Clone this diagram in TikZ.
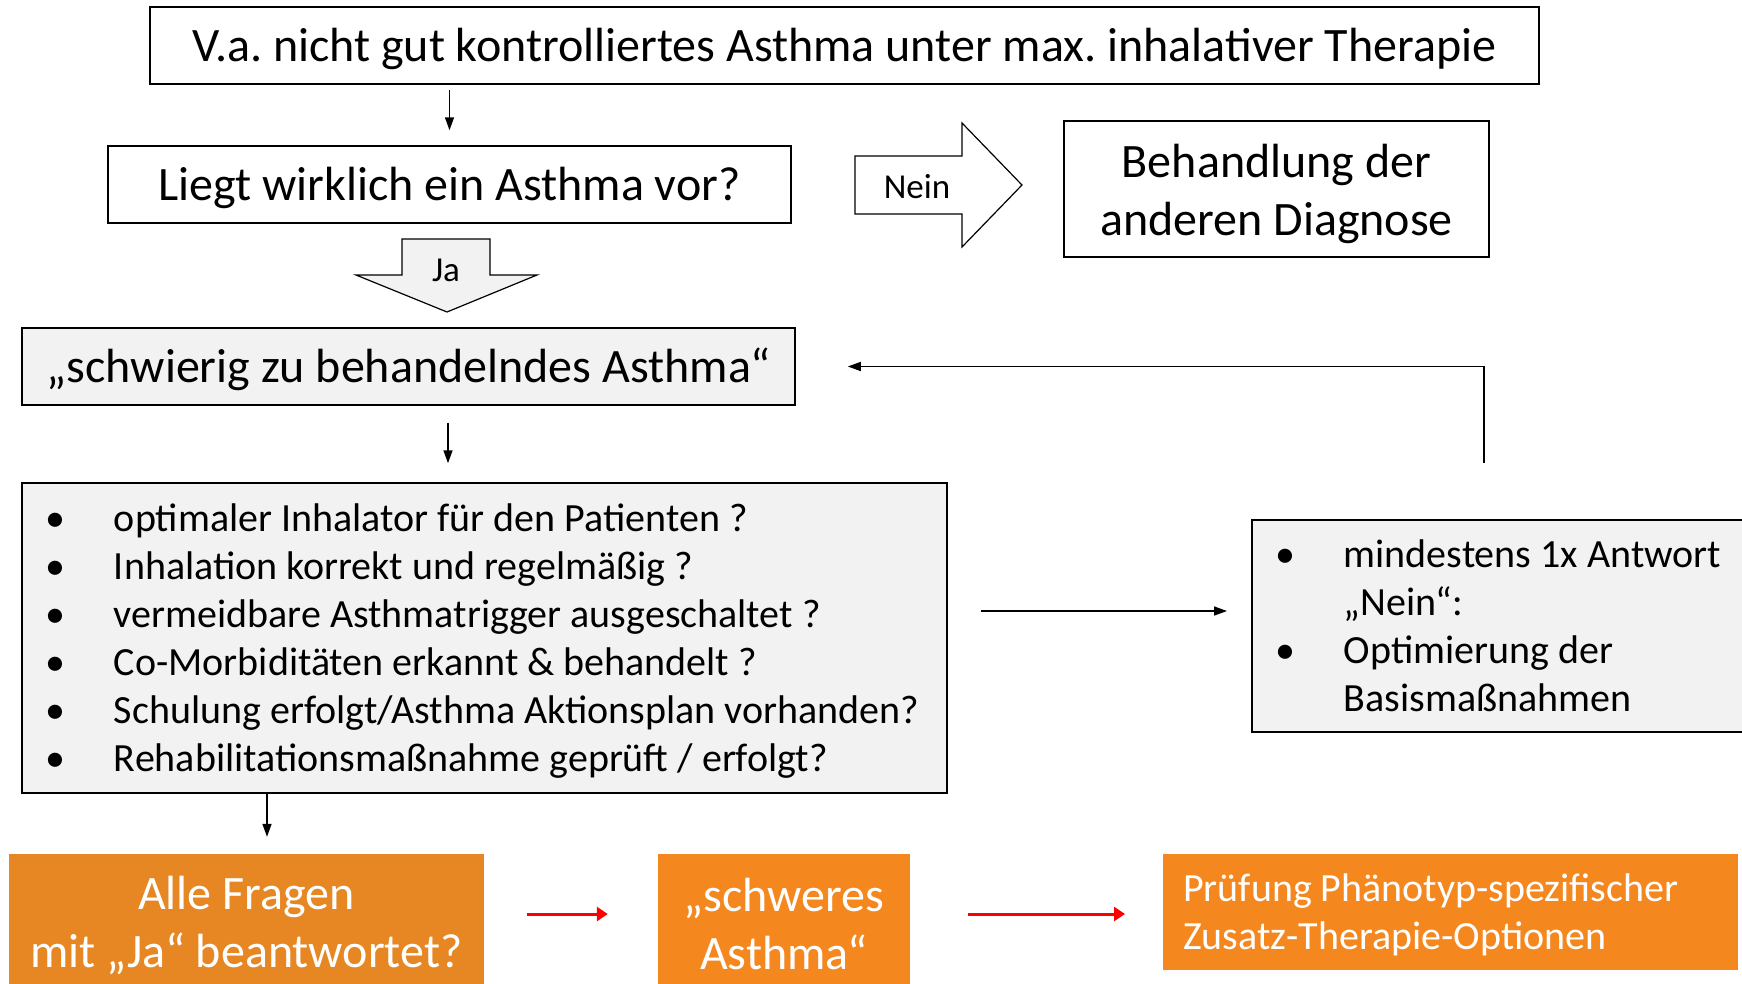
\documentclass[tikz,border=0pt]{standalone}
\usepackage{fontspec}
\setmainfont{Carlito}
\usetikzlibrary{arrows.meta}
\definecolor{boxgray}{HTML}{F2F2F2}
\definecolor{orA}{HTML}{E78724}
\definecolor{orB}{HTML}{F5871F}
\newcommand\fsA{\fontsize{48}{58}\selectfont}
\newcommand\fsB{\fontsize{48}{58}\selectfont}
\newcommand\fsC{\fontsize{40}{48}\selectfont}
\newcommand\fsS{\fontsize{35}{40}\selectfont}
\newcommand\bul[1]{\makebox[#1][l]{•}}
\newcommand\dn[2]{\raisebox{-#1}[\height][\depth]{#2}}
\newcommand\qline[1]{\dn{3.5pt}{\makebox[879pt][l]{\bul{69pt}#1}}}
\newcommand\oline[2]{\makebox[492pt][l]{#1#2}}
\newcommand\pline[1]{\dn{3pt}{\makebox[535pt][l]{#1}}}
\frenchspacing
\begin{document}
\begin{tikzpicture}[x=1pt,y=-1pt,
  box/.style={draw=black, line width=1.5pt, fill=white, inner sep=0pt},
  graybox/.style={box, fill=boxgray},
  orbox/.style={fill=#1, draw=none, inner sep=0pt, text=white},
  arr/.style={draw=black, line width=1.5pt, -{Triangle[length=13pt,width=9pt]}},
  redarr/.style={draw=red, line width=3pt, -{Triangle[length=11pt,width=14pt]}},
  bigarrow/.style={draw=black, line width=1.2pt, line join=miter}]
\useasboundingbox (0,0) rectangle (1742,983);
\fill[white] (0,0) rectangle (1742,983);

\node[box, minimum width=1389pt, minimum height=77pt, font=\fsA] (top) at (844.5,45.5)
  {\dn{3.5pt}{V.a. nicht gut kontrolliertes Asthma unter max. inhalativer Therapie}};
\node[box, minimum width=683pt, minimum height=77pt, font=\fsA] (liegt) at (449.5,184.5)
  {\dn{3.5pt}{Liegt wirklich ein Asthma vor?}};
\node[box, minimum width=425pt, minimum height=136pt, align=center, font=\fsB] (behand) at (1276.5,189)
  {\dn{4.5pt}{Behandlung der}\\\dn{4.5pt}{anderen Diagnose}};
\node[graybox, minimum width=773pt, minimum height=77pt, font=\fsA] (schw) at (408.5,366.5)
  {\dn{2.5pt}{„schwierig zu behandelndes Asthma“}};
\node[graybox, minimum width=925pt, minimum height=310pt, inner xsep=23pt, align=left, font=\fsC] (quest) at (484.5,638)
  {\qline{optimaler Inhalator für den Patienten ?}\\
   \qline{Inhalation korrekt und regelmäßig ?}\\
   \qline{vermeidbare Asthmatrigger ausgeschaltet ?}\\
   \qline{Co-Morbiditäten erkannt \& behandelt ?}\\
   \qline{Schulung erfolgt/Asthma Aktionsplan vorhanden?}\\
   \qline{Rehabilitationsmaßnahme geprüft / erfolgt?}};
\node[graybox, anchor=west, minimum width=540pt, minimum height=212pt, inner xsep=24pt, align=left, font=\fsC] (opt) at (1251,626)
  {\oline{\bul{68pt}}{mindestens 1x Antwort}\\
   \oline{\hspace*{68pt}}{„Nein“:}\\
   \oline{\bul{68pt}}{Optimierung der}\\
   \oline{\hspace*{68pt}}{Basismaßnahmen}};

\node[orbox=orA, minimum width=475pt, minimum height=140pt, align=center, font=\fsB] (alle) at (246.5,924)
  {\dn{1.5pt}{Alle Fragen}\\\dn{1.5pt}{mit „Ja“ beantwortet?}};
\node[orbox=orB, minimum width=252pt, minimum height=140pt, align=center, font=\fsB] (schwer) at (784,924)
  {„schweres\\Asthma“};
\node[orbox=orB, anchor=west, minimum width=575pt, minimum height=116pt, inner xsep=20pt, align=left, font=\fsC] (pruef) at (1163,912)
  {\pline{Prüfung Phänotyp-spezifischer}\\\pline{Zusatz-Therapie-Optionen}};

% Ja arrow
\draw[bigarrow, fill=boxgray] (402,239) -- (490,239) -- (490,275) -- (537,275) -- (447,312) -- (356,275) -- (402,275) -- cycle;
\node[font=\fsS] (ja) at (446,270) {Ja};
% Nein arrow
\draw[bigarrow, fill=white] (855,156) -- (962,156) -- (962,123) -- (1022,185) -- (962,247) -- (962,214) -- (855,214) -- cycle;
\node[font=\fsS] (nein) at (917,187) {Nein};

% connectors
\draw[arr, shorten <=5pt, shorten >=15pt] (top.south -| liegt.north) -- (liegt.north);
\draw[arr, shorten <=17pt, shorten >=19pt] (schw.south -| 448,0) -- (448,0 |- quest.north);
\draw[arr, shorten <=33pt, shorten >=24pt] ([yshift=27pt]quest.east) -- ([yshift=27pt]quest.east -| opt.west);
\coordinate (fb) at (1484,463);
\draw[arr] (fb) |- ([xshift=52pt]schw.east);
\draw[arr, shorten >=17pt] (quest.south -| 267,0) -- (267,0 |- alle.north);
\draw[redarr, shorten <=43pt, shorten >=50pt] ([yshift=10pt]alle.east) -- ([yshift=10pt]alle.east -| schwer.west);
\draw[redarr, shorten <=58pt, shorten >=38pt] ([yshift=10pt]schwer.east) -- ([yshift=10pt]schwer.east -| pruef.west);
\end{tikzpicture}
\end{document}
